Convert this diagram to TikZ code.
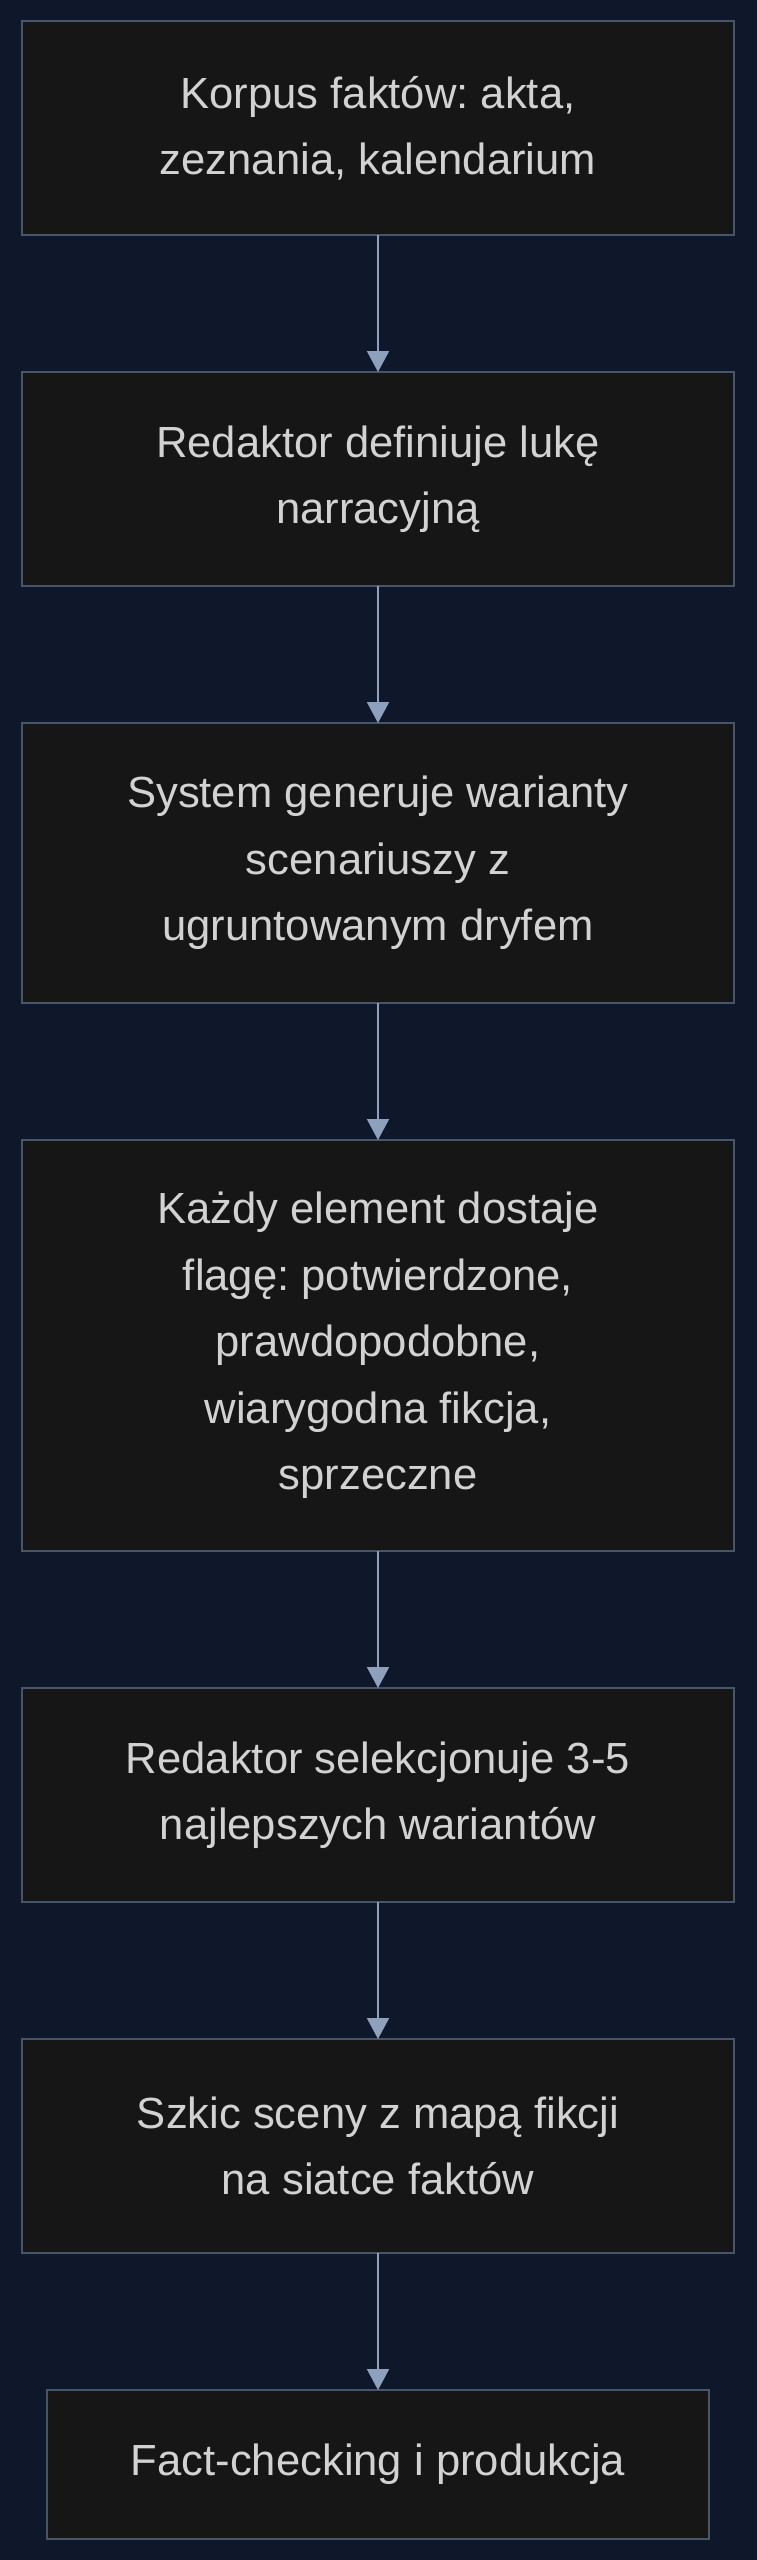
\documentclass[tikz,border=0pt]{standalone}
\usepackage{fontspec}
\setmainfont{Liberation Sans}
\usetikzlibrary{positioning,arrows.meta}
\definecolor{bgnavy}{HTML}{0F172A}
\definecolor{boxfill}{HTML}{161616}
\definecolor{boxline}{HTML}{475569}
\definecolor{boxtext}{HTML}{D2D2D2}
\definecolor{flowline}{HTML}{8DA0BC}
\frenchspacing
\begin{document}
\begin{tikzpicture}[stage/.style = {shape=rectangle, draw=boxline, fill=boxfill, line width=1.25pt, text=boxtext, align=center, inner sep=0pt, outer sep=0pt, minimum width=356pt, font=\fontsize{21.8pt}{33.25pt}\selectfont},
      node distance=68.5pt,
      flow/.style={draw=flowline, line width=1pt, -{Triangle[width=11pt,length=10.5pt]}}]
      \useasboundingbox (0,0) rectangle (378pt,-1280pt);
      \fill[bgnavy] (-2pt,2pt) rectangle (380pt,-1282pt);
      \node[stage, minimum height=107pt, anchor=north] (korpus) at (189pt,-10.5pt) {Korpus faktów: akta,\\zeznania, kalendarium};
      \node[stage, minimum height=107pt, below=of korpus] (luka) {Redaktor definiuje lukę\\narracyjną};
      \node[stage, minimum height=140pt, below=of luka] (warianty) {System generuje warianty\\scenariuszy z\\ugruntowanym dryfem};
      \node[stage, minimum height=205.5pt, below=of warianty] (flagi) {Każdy element dostaje\\flagę: potwierdzone,\\prawdopodobne,\\wiarygodna fikcja,\\sprzeczne};
      \node[stage, minimum height=107pt, below=of flagi] (selekcja) {Redaktor selekcjonuje 3-5\\najlepszych wariantów};
      \node[stage, minimum height=107pt, below=of selekcja] (szkic) {Szkic sceny z mapą fikcji\\na siatce faktów};
      \node[stage, minimum height=74.5pt, minimum width=331pt, below=of szkic] (produkcja) {Fact-checking i produkcja};
      \draw[flow] (korpus) -- (luka);
      \draw[flow] (luka) -- (warianty);
      \draw[flow] (warianty) -- (flagi);
      \draw[flow] (flagi) -- (selekcja);
      \draw[flow] (selekcja) -- (szkic);
      \draw[flow] (szkic) -- (produkcja);
    \end{tikzpicture}
\end{document}
